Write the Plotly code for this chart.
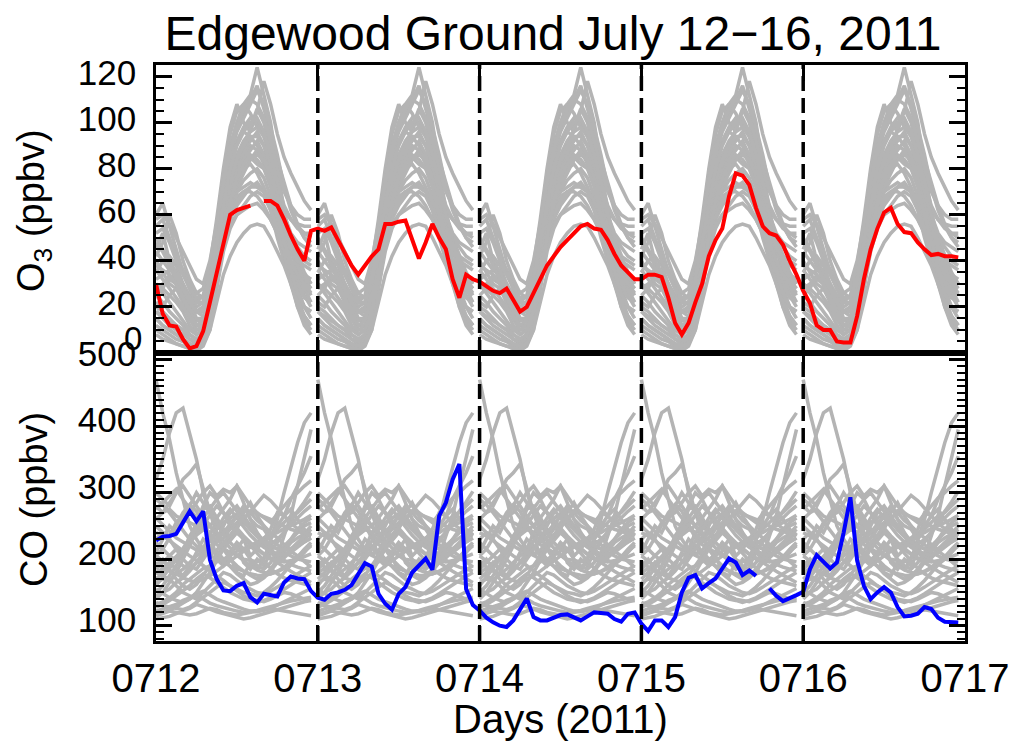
import plotly.graph_objects as go

# ---------------- data ----------------
day_labels = ["0712", "0713", "0714", "0715", "0716", "0717"]
n_days = 5

# observed hourly O3 (ppbv), hours 0..119 from 0712 00:00
o3_obs = [30, 17, 12, 11.5, 6, 2, 3, 9.5, 22, 35, 48, 60, 62, 63, 64, None, 66, 66, 64, 58,
          51, 45, 40, 53, 54, 53, 54.5, 49, 43, 38, 34, 38, 42, 45, 56, 56, 57, 57.5, 49, 41,
          48, 56, 50, 45, 32, 24, 34, 32, 31, 29, 27, 26, 28, 23, 18, 20, 26, 32, 38, 42,
          46, 49, 52, 55, 56, 54, 53.5, 49, 43, 38, 35, 32, 32, 34, 34, 33, 24, 13, 8, 13,
          22, 30, 42, 49, 54, 68, 78, 77, 73, 63, 55, 52, 51, 47, 40, 34, 27, 21.6, 12, 10,
          10, 5, 4.6, 4.6, 16, 32, 45, 54, 61, 63, 56, 52.5, 52, 48, 45, 42.5, 43, 42, 42, 41.5]

# observed hourly CO (ppbv)
co_obs = [228, 234, 235, 238, 255, 272, 257, 272, 199, 170, 153, 152, 160, 164, 143, 135, 148, 146, 144, 165,
          174, 171, 170, 152, 142, 139, 148, 150, 154, 161, 178, 194, 189, 148, 133, 124, 148, 158, 180, 191,
          201, 184, 265, 285, 320, 343, 155, 131, 123, 112, 105, 100, 98, 108, 125, 141, 113, 108, 108, 112,
          116, 117, 112, 108, 114, 120, 119, 118, 110, 106, 118, 120, 103, 92, 108, 108, 98, 113, 150, 172,
          176, 156, 164, 171, 186, 201, 195, 176, 183, 175, None, 156, 145, 137, 141, 146, 151, 185, 206, 196,
          186, 195, 240, 293, 198, 160, 140, 150, 158, 150, 128, 114, 115, 118, 128, 125, 112, 106, 105, 105]

# gray ensemble diurnal O3 profiles (hour 0..23), same for every day
o3_gray = [
    [45, 52, 40, 30, 22, 15, 10, 12, 30, 55, 78, 95, 105, 108, 112, 124, 112, 100, 80, 62, 48, 38, 30, 25],
    [60, 65, 55, 45, 35, 28, 22, 25, 38, 58, 80, 98, 108, 100, 96, 105, 118, 108, 95, 85, 78, 72, 66, 62],
    [30, 28, 25, 22, 18, 12, 8, 10, 25, 45, 70, 88, 100, 108, 104, 98, 95, 90, 75, 60, 50, 42, 35, 30],
    [20, 18, 15, 12, 10, 6, 4, 8, 20, 40, 62, 80, 92, 98, 102, 100, 94, 85, 72, 58, 45, 35, 28, 22],
    [35, 40, 42, 38, 30, 22, 15, 15, 28, 50, 72, 85, 92, 96, 94, 90, 85, 78, 68, 56, 48, 40, 34, 30],
    [15, 12, 10, 8, 6, 4, 3, 5, 15, 35, 55, 70, 80, 86, 90, 88, 82, 74, 62, 50, 38, 28, 20, 15],
    [25, 22, 18, 15, 12, 8, 6, 8, 20, 38, 58, 72, 82, 88, 92, 96, 90, 80, 66, 52, 40, 32, 25, 20],
    [50, 45, 40, 35, 30, 25, 20, 22, 35, 52, 68, 78, 82, 84, 85, 82, 80, 75, 68, 62, 58, 55, 52, 50],
    [10, 8, 6, 4, 3, 2, 1, 3, 10, 28, 48, 62, 70, 75, 78, 80, 76, 68, 55, 42, 30, 20, 14, 10],
    [28, 30, 32, 30, 26, 20, 14, 14, 24, 42, 60, 70, 76, 80, 82, 78, 72, 65, 58, 50, 44, 38, 32, 28],
    [40, 35, 30, 28, 25, 20, 18, 20, 30, 45, 58, 66, 70, 72, 74, 72, 70, 66, 60, 55, 50, 46, 42, 40],
    [18, 15, 12, 10, 8, 6, 5, 6, 14, 30, 48, 58, 64, 68, 72, 74, 70, 62, 50, 40, 32, 25, 20, 18],
    [55, 58, 50, 42, 36, 30, 26, 28, 38, 52, 64, 72, 78, 86, 98, 106, 100, 88, 72, 62, 58, 56, 55, 55],
    [22, 20, 25, 28, 22, 15, 10, 10, 18, 35, 52, 62, 68, 70, 70, 68, 64, 58, 52, 46, 38, 30, 24, 22],
    [12, 10, 8, 6, 5, 3, 2, 4, 12, 30, 46, 56, 60, 62, 64, 65, 62, 58, 52, 44, 34, 24, 16, 12],
    [38, 36, 34, 30, 26, 22, 18, 18, 26, 40, 54, 64, 72, 78, 84, 88, 84, 76, 62, 50, 44, 42, 40, 38],
    [32, 34, 36, 34, 30, 24, 18, 16, 22, 36, 50, 60, 66, 70, 72, 72, 70, 66, 60, 54, 48, 40, 34, 32],
    [8, 6, 5, 4, 3, 2, 2, 4, 12, 28, 44, 54, 60, 64, 68, 70, 68, 62, 54, 44, 32, 20, 12, 8],
    [15, 12, 10, 8, 6, 4, 3, 4, 10, 22, 34, 42, 48, 52, 55, 56, 55, 50, 44, 38, 30, 22, 16, 12],
    [42, 48, 60, 52, 40, 32, 26, 24, 34, 56, 76, 90, 100, 104, 110, 116, 106, 96, 84, 74, 64, 56, 50, 46],
    [48, 44, 38, 32, 28, 22, 18, 20, 32, 50, 70, 86, 96, 102, 108, 114, 108, 98, 86, 72, 62, 55, 50, 48],
    [25, 28, 34, 30, 24, 18, 12, 12, 22, 42, 64, 78, 86, 92, 96, 98, 94, 86, 74, 60, 48, 38, 30, 26],
    [36, 32, 28, 24, 20, 16, 12, 14, 24, 40, 58, 70, 78, 84, 88, 92, 86, 78, 66, 54, 46, 40, 38, 36],
    [58, 60, 56, 50, 44, 38, 32, 30, 40, 56, 74, 88, 98, 106, 110, 108, 102, 92, 80, 70, 64, 60, 58, 58],
    [18, 16, 14, 12, 10, 8, 6, 8, 16, 32, 50, 64, 74, 80, 84, 86, 84, 76, 64, 50, 36, 26, 20, 18],
    [44, 40, 36, 40, 36, 28, 22, 22, 30, 46, 62, 74, 84, 90, 94, 94, 90, 82, 70, 60, 52, 48, 46, 44],
    [30, 26, 22, 18, 14, 10, 8, 10, 18, 34, 52, 66, 76, 82, 86, 84, 80, 72, 60, 48, 40, 34, 30, 28],
    [52, 54, 48, 40, 34, 28, 24, 24, 32, 48, 66, 80, 90, 96, 100, 102, 96, 86, 74, 64, 58, 54, 52, 52],
]

# gray ensemble diurnal CO profiles (hour 0..23)
co_gray = [
    [470, 420, 380, 330, 290, 250, 230, 215, 240, 200, 190, 205, 180, 175, 195, 185, 200, 230, 260, 300, 340, 375, 405, 420],
    [320, 350, 390, 420, 427, 390, 350, 300, 270, 240, 215, 205, 225, 195, 185, 200, 190, 210, 205, 235, 265, 310, 355, 395],
    [260, 270, 285, 300, 320, 330, 343, 305, 270, 250, 240, 225, 215, 230, 205, 215, 230, 245, 270, 265, 290, 310, 330, 355],
    [230, 240, 235, 255, 265, 270, 285, 300, 310, 295, 305, 300, 310, 285, 260, 250, 245, 230, 245, 255, 265, 270, 280, 290],
    [185, 195, 205, 215, 210, 235, 250, 275, 280, 262, 245, 232, 245, 270, 285, 265, 250, 228, 222, 212, 225, 232, 238, 250],
    [165, 170, 168, 178, 185, 195, 205, 212, 218, 226, 232, 245, 255, 262, 270, 258, 250, 240, 232, 222, 212, 205, 196, 188],
    [145, 150, 155, 165, 172, 182, 195, 205, 208, 212, 200, 188, 178, 170, 162, 165, 172, 182, 195, 202, 212, 222, 230, 240],
    [122, 125, 128, 132, 138, 142, 148, 152, 146, 140, 136, 132, 128, 125, 122, 121, 123, 126, 131, 136, 141, 146, 150, 156],
    [110, 112, 114, 118, 122, 126, 132, 129, 125, 121, 118, 115, 112, 110, 112, 115, 118, 121, 125, 128, 130, 133, 136, 138],
    [205, 215, 232, 252, 270, 282, 272, 252, 232, 222, 216, 210, 206, 200, 198, 196, 202, 212, 226, 242, 256, 272, 286, 302],
    [262, 252, 242, 232, 226, 220, 214, 210, 206, 200, 196, 190, 186, 181, 178, 176, 175, 178, 181, 186, 192, 200, 210, 222],
    [132, 136, 142, 150, 162, 170, 178, 186, 190, 196, 200, 206, 212, 216, 220, 226, 232, 236, 240, 246, 250, 255, 260, 266],
    [180, 175, 170, 160, 150, 145, 140, 150, 160, 170, 180, 176, 168, 160, 155, 150, 148, 152, 158, 165, 172, 178, 184, 190],
    [240, 235, 228, 220, 212, 205, 198, 190, 182, 175, 168, 160, 155, 150, 148, 145, 150, 158, 168, 180, 192, 205, 215, 225],
    [150, 160, 175, 190, 210, 230, 255, 280, 300, 290, 270, 250, 240, 230, 222, 215, 208, 200, 195, 188, 182, 176, 170, 165],
    [115, 118, 122, 120, 118, 116, 118, 122, 126, 124, 120, 118, 116, 118, 120, 122, 124, 126, 124, 122, 120, 118, 116, 115],
    [280, 270, 275, 265, 260, 255, 250, 245, 240, 248, 255, 262, 268, 275, 272, 268, 265, 260, 255, 250, 245, 242, 238, 235],
    [195, 188, 182, 178, 172, 168, 165, 170, 175, 182, 190, 198, 205, 212, 218, 222, 225, 220, 215, 210, 205, 200, 198, 196],
    [300, 290, 280, 300, 310, 295, 280, 265, 250, 262, 275, 290, 310, 295, 280, 270, 262, 255, 268, 280, 292, 300, 310, 318],
    [135, 130, 128, 126, 124, 128, 135, 142, 150, 158, 165, 160, 152, 145, 140, 138, 136, 140, 145, 150, 148, 144, 140, 138],
    [210, 230, 250, 240, 260, 280, 300, 285, 270, 255, 240, 250, 265, 280, 260, 240, 225, 235, 250, 265, 275, 260, 245, 235],
    [170, 180, 195, 185, 175, 190, 210, 230, 220, 205, 195, 210, 225, 215, 200, 190, 185, 195, 210, 220, 230, 240, 250, 255],
    [250, 240, 230, 215, 200, 190, 185, 200, 215, 230, 250, 270, 280, 265, 250, 235, 220, 210, 200, 205, 215, 225, 235, 245],
    [140, 150, 165, 180, 200, 220, 245, 260, 250, 235, 215, 200, 190, 182, 176, 170, 175, 185, 200, 215, 230, 245, 255, 262],
    [190, 200, 185, 170, 160, 155, 162, 175, 190, 205, 220, 235, 250, 262, 250, 238, 226, 215, 205, 198, 192, 188, 185, 182],
    [225, 215, 205, 198, 190, 185, 195, 210, 228, 245, 262, 275, 262, 248, 236, 226, 218, 212, 208, 206, 210, 218, 226, 232],
    [155, 148, 142, 138, 135, 140, 150, 165, 180, 198, 215, 228, 240, 232, 220, 208, 196, 186, 178, 172, 168, 165, 162, 160],
    [275, 285, 295, 305, 290, 275, 262, 250, 238, 228, 240, 252, 265, 255, 245, 236, 228, 222, 230, 240, 252, 262, 272, 280],
    [128, 132, 138, 145, 152, 160, 170, 178, 172, 165, 158, 150, 145, 140, 138, 135, 138, 142, 148, 155, 162, 168, 174, 180],
    [205, 198, 190, 200, 212, 225, 238, 252, 266, 280, 270, 258, 246, 235, 225, 216, 208, 202, 198, 196, 198, 200, 204, 208],
    [160, 172, 186, 200, 214, 226, 236, 244, 250, 240, 228, 216, 206, 198, 190, 184, 180, 178, 182, 188, 196, 204, 212, 220],
    [118, 120, 124, 128, 134, 140, 146, 140, 134, 130, 127, 124, 122, 120, 121, 123, 126, 129, 132, 135, 137, 139, 141, 143],
    [290, 282, 270, 256, 242, 230, 220, 212, 206, 214, 224, 236, 248, 260, 272, 284, 296, 288, 276, 264, 254, 246, 240, 236],
    [180, 186, 194, 204, 216, 230, 246, 262, 276, 290, 300, 286, 270, 256, 244, 234, 226, 220, 216, 214, 216, 220, 226, 232],
]

# ---------------- figure ----------------
GRAY = "rgb(180,180,180)"
FONT = "Liberation Sans"
PAGE_OFF = 8  # browser body margin


def tile_days(profile):
    xs, ys = [], []
    for d in range(n_days):
        for h, v in enumerate(profile):
            xs.append(d + h / 24.0)
            ys.append(v)
        xs.append(None)
        ys.append(None)
    return xs, ys


fig = go.Figure()

for prof in o3_gray:
    xs, ys = tile_days(prof)
    fig.add_trace(go.Scatter(x=xs, y=ys, mode="lines", line=dict(color=GRAY, width=3.5),
                             xaxis="x", yaxis="y", showlegend=False, hoverinfo="skip"))
for prof in co_gray:
    xs, ys = tile_days(prof)
    fig.add_trace(go.Scatter(x=xs, y=ys, mode="lines", line=dict(color=GRAY, width=3.5),
                             xaxis="x2", yaxis="y2", showlegend=False, hoverinfo="skip"))

obs_x = [h / 24.0 for h in range(len(o3_obs))]
fig.add_trace(go.Scatter(x=obs_x, y=o3_obs, mode="lines", line=dict(color="rgb(255,0,0)", width=4),
                         xaxis="x", yaxis="y", showlegend=False, connectgaps=False))
fig.add_trace(go.Scatter(x=obs_x, y=co_obs, mode="lines", line=dict(color="rgb(0,0,255)", width=4),
                         xaxis="x2", yaxis="y2", showlegend=False, connectgaps=False))

# dashed day separators
for d in range(1, n_days):
    fig.add_shape(type="line", xref="x2", yref="paper", x0=d, x1=d, y0=0, y1=1,
                  line=dict(color="black", width=3.5, dash="15px,7px"), layer="above")

axis_common = dict(showline=True, linecolor="black", linewidth=2.5, mirror="ticks",
                   ticks="inside", tickcolor="black", tickwidth=2.5, showgrid=False,
                   zeroline=False, automargin=False)

fig.update_layout(
    width=1017, height=751,
    margin=dict(l=156 - PAGE_OFF, r=52 + PAGE_OFF, t=65 - PAGE_OFF, b=110 + PAGE_OFF),
    paper_bgcolor="white", plot_bgcolor="white",
    font=dict(family=FONT, color="black"),
    title=dict(text="Edgewood Ground July 12\u221216, 2011", x=(553 - PAGE_OFF) / 1017, xanchor="center",
               y=1 - (33 - PAGE_OFF) / 751, yanchor="middle", font=dict(size=48, family=FONT, color="black")),
    xaxis=dict(domain=[0, 1], range=[0, n_days], anchor="y", tickvals=list(range(n_days + 1)),
               showticklabels=False, ticklen=16, **axis_common),
    xaxis2=dict(domain=[0, 1], range=[0, n_days], anchor="y2", tickvals=list(range(n_days + 1)),
                ticktext=day_labels, ticklen=16, tickfont=dict(size=40, family=FONT),
                ticklabelstandoff=0, **axis_common),
    yaxis=dict(domain=[0.5, 1], range=[0, 125], anchor="x", tickvals=[20, 40, 60, 80, 100, 120],
               ticklen=16, tickfont=dict(size=35, family=FONT), ticklabelshift=-4, ticklabelstandoff=10,
               minor=dict(dtick=5, ticklen=8, ticks="inside", tickcolor="black", tickwidth=2),
               **axis_common),
    yaxis2=dict(domain=[0, 0.5], range=[77, 510], anchor="x2", tickvals=[100, 200, 300, 400, 500],
                ticklen=16, tickfont=dict(size=35, family=FONT), ticklabelshift=-6, ticklabelstandoff=10,
                minor=dict(dtick=10, ticklen=8, ticks="inside", tickcolor="black", tickwidth=2),
                **axis_common),
)

# "0" label of the O3 axis (drawn slightly above the panel border as in the original)
fig.add_annotation(text="0", xref="paper", yref="y", x=0, y=0, xanchor="right", yanchor="middle",
                   xshift=-12, yshift=15, showarrow=False, font=dict(size=33, family=FONT, color="black"))

# axis titles
fig.add_annotation(text="O<sub>3</sub> (ppbv)", xref="paper", yref="paper", x=(34 - 156) / 809,
                   y=1 - (211 - 65) / 576, xanchor="center", yanchor="middle", textangle=-90,
                   showarrow=False, font=dict(size=38, family=FONT, color="black"))
fig.add_annotation(text="CO (ppbv)", xref="paper", yref="paper", x=(34 - 156) / 809,
                   y=1 - (500 - 65) / 576, xanchor="center", yanchor="middle", textangle=-90,
                   showarrow=False, font=dict(size=38, family=FONT, color="black"))
fig.add_annotation(text="Days (2011)", xref="paper", yref="paper", x=(560 - 156) / 809,
                   y=-(719 - 641) / 576, xanchor="center", yanchor="middle",
                   showarrow=False, font=dict(size=40, family=FONT, color="black"))

fig.write_html("out.html")
